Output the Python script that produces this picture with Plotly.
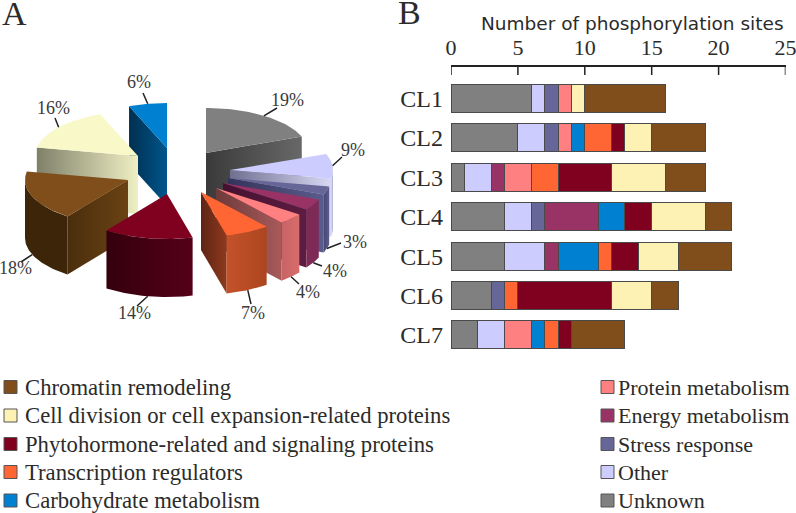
import numpy as np
import plotly.graph_objects as go

# panel B
clusters = ["CL1", "CL2", "CL3", "CL4", "CL5", "CL6", "CL7"]
unknown = [6, 5, 1, 4, 4, 3, 2]
other = [1, 2, 2, 2, 3, None, 2]
stress = [1, 1, None, 1, None, 1, None]
energy = [None, None, 1, 4, 1, None, None]
protein = [1, 1, 2, None, None, None, 2]
carbohydrate = [None, 1, None, 2, 3, None, 1]
transcription = [None, 2, 2, None, 1, 1, 1]
phytohormone = [None, 1, 4, 2, 2, 7, 1]
cell_division = [1, 2, 4, 4, 3, 3, None]
chromatin = [6, 4, 3, 2, 4, 2, 4]
x_ticks = [0, 5, 10, 15, 20, 25]

# panel A, clockwise from 12 o'clock
pie_names = ["Unknown", "Other", "Stress response", "Energy metabolism", "Protein metabolism",
             "Transcription regulators", "Phytohormone", "Chromatin remodeling",
             "Cell division", "Carbohydrate metabolism"]
pie_values = [19, 9, 3, 4, 4, 7, 14, 18, 16, 6]

legend_left = ["Chromatin remodeling", "Cell division or cell expansion-related proteins",
               "Phytohormone-related and signaling proteins", "Transcription regulators",
               "Carbohydrate metabolism"]
legend_right = ["Protein metabolism", "Energy metabolism", "Stress response", "Other", "Unknown"]

colors = {"Unknown": "#808080", "Other": "#ccccff", "Stress response": "#666699",
          "Energy metabolism": "#993366", "Protein metabolism": "#ff8080",
          "Transcription regulators": "#ff6633", "Phytohormone": "#800020",
          "Chromatin remodeling": "#7f4e1a", "Cell division": "#fdf2b4",
          "Carbohydrate metabolism": "#0080d0"}
pie_top = dict(colors, **{"Cell division": "#f8f8c8"})
legend_colors_left = ["#7f4e1a", "#fdf2b4", "#800020", "#ff6633", "#0080d0"]
legend_colors_right = ["#ff8080", "#993366", "#666699", "#ccccff", "#808080"]

# exploded pie layout, pixels on the full-page axes
RX, RY, WALL = 103, 45, 58
apex = {"Unknown": (206, 153), "Other": (230, 170), "Stress response": (228, 178),
        "Energy metabolism": (223, 183), "Protein metabolism": (216, 188),
        "Transcription regulators": (201, 192), "Phytohormone": (167, 194),
        "Chromatin remodeling": (128, 180), "Cell division": (138, 156),
        "Carbohydrate metabolism": (167, 148)}
label_pos = {"Unknown": (287, 100), "Other": (353, 150), "Stress response": (355, 242),
             "Energy metabolism": (335, 271), "Protein metabolism": (308, 292),
             "Transcription regulators": (253, 313), "Phytohormone": (134, 313),
             "Chromatin remodeling": (15, 268), "Cell division": (53, 108),
             "Carbohydrate metabolism": (139, 82)}
leader_end = {"Unknown": (277, 108), "Other": (342, 157), "Stress response": (341, 243),
              "Energy metabolism": (322, 266), "Protein metabolism": (299, 284),
              "Transcription regulators": (251, 304), "Phytohormone": (137, 306),
              "Chromatin remodeling": (21, 262), "Cell division": (55, 118),
              "Carbohydrate metabolism": (143, 93)}
# cut face and outer wall shades: (left colour, right colour)
cut_shade = {"Unknown": ("#3a3a3a", "#686868"), "Other": ("#6f6f90", "#d8d8f4"),
             "Stress response": ("#33335a", "#5c5c8c"), "Energy metabolism": ("#451030", "#5e1d40"),
             "Protein metabolism": ("#6e3a3a", "#a85a5a"), "Transcription regulators": ("#5e2416", "#8e3a1c"),
             "Phytohormone": ("#3c0010", "#3c0010"), "Chromatin remodeling": ("#4a2e0c", "#6a4214"),
             "Cell division": ("#80806a", "#efefc4"), "Carbohydrate metabolism": ("#002f50", "#00568c")}
wall_shade = {"Unknown": ("#686868", "#686868"), "Other": ("#d0d0f0", "#b0b0d8"),
              "Stress response": ("#464678", "#5c5c8c"), "Energy metabolism": ("#7e2a56", "#7e2a56"),
              "Protein metabolism": ("#c86464", "#d86c6c"), "Transcription regulators": ("#c4522a", "#ac4620"),
              "Phytohormone": ("#34000e", "#55001a"), "Chromatin remodeling": ("#3c2508", "#3c2508"),
              "Cell division": ("#efefc4", "#efefc4"), "Carbohydrate metabolism": ("#00568c", "#00568c")}
draw_order = ["Unknown", "Carbohydrate metabolism", "Cell division", "Other", "Stress response",
              "Energy metabolism", "Protein metabolism", "Chromatin remodeling",
              "Transcription regulators", "Phytohormone"]

PAGE_W, PAGE_H = 796, 513
SERIF = "Liberation Serif"
TEXT = "#2b2b2b"


def rim(name, deg):
    ax, ay = apex[name]
    t = np.radians(deg)
    return ax + RX * np.sin(t), ay - RY * np.cos(t)


def face(xs, ys, fill_from, fill_to):
    xs = [float(v) for v in xs]
    ys = [float(v) for v in ys]
    return go.Scatter(x=xs + xs[:1], y=ys + ys[:1], xaxis="x2", yaxis="y2", mode="lines",
                      line=dict(width=0), fill="toself", hoverinfo="skip",
                      fillgradient=dict(type="horizontal",
                                        colorscale=[[0, fill_from], [1, fill_to]]))


fig = go.Figure()

# pie wedges
bounds = np.concatenate([[0], np.cumsum(pie_values)]) * 3.6
spans = {n: (bounds[i], bounds[i + 1]) for i, n in enumerate(pie_names)}
for name in draw_order:
    a, b = spans[name]
    ax, ay = apex[name]
    if np.sin(np.radians(a)) < -1e-6:
        px, py = rim(name, a)
        fig.add_trace(face([ax, px, px, ax], [ay, py, py + WALL, ay + WALL], *cut_shade[name]))
    if np.sin(np.radians(b)) > 1e-6:
        px, py = rim(name, b)
        fig.add_trace(face([ax, px, px, ax], [ay, py, py + WALL, ay + WALL], *cut_shade[name]))
    lo, hi = max(a, 90), min(b, 270)
    if lo < hi:
        arc = np.linspace(lo, hi, 40)
        xa, ya = rim(name, arc)
        fig.add_trace(face(np.concatenate([xa, xa[::-1]]), np.concatenate([ya, ya[::-1] + WALL]),
                           *wall_shade[name]))
    arc = np.linspace(a, b, 40)
    xa, ya = rim(name, arc)
    fig.add_trace(go.Scatter(x=np.concatenate([[ax], xa, [ax]]), y=np.concatenate([[ay], ya, [ay]]),
                             xaxis="x2", yaxis="y2", mode="lines", line=dict(width=0),
                             fill="toself", fillcolor=pie_top[name], hoverinfo="skip"))

# leader lines and percent labels
for name, value in zip(pie_names, pie_values):
    a, b = spans[name]
    mid = (a + b) / 2
    sx, sy = rim(name, mid)
    if 90 < mid < 270:
        sy += WALL
    ex, ey = leader_end[name]
    fig.add_trace(go.Scatter(x=[sx, ex], y=[sy, ey], xaxis="x2", yaxis="y2", mode="lines",
                             line=dict(color="#222222", width=1.5), hoverinfo="skip"))
    lx, ly = label_pos[name]
    fig.add_annotation(x=lx, y=ly, xref="x2", yref="y2", text=f"{value}%", showarrow=False,
                       font=dict(family=SERIF, size=18, color="#3a3a3a"))

# stacked bars
series = [("Unknown", unknown), ("Other", other), ("Stress response", stress),
          ("Energy metabolism", energy), ("Protein metabolism", protein),
          ("Carbohydrate metabolism", carbohydrate), ("Transcription regulators", transcription),
          ("Phytohormone", phytohormone), ("Cell division", cell_division),
          ("Chromatin remodeling", chromatin)]
for name, vals in series:
    fig.add_trace(go.Bar(x=vals, y=clusters, orientation="h", name=name, xaxis="x", yaxis="y",
                         marker=dict(color=colors[name], line=dict(color="#4a4a4a", width=1))))

# legend swatches
rows = [387, 415.5, 444, 472, 500.5]
fig.add_trace(go.Scatter(x=[10.5] * 5 + [607.5] * 5, y=rows + rows, xaxis="x2", yaxis="y2",
                         mode="markers", hoverinfo="skip",
                         marker=dict(symbol="square", size=13,
                                     color=legend_colors_left + legend_colors_right,
                                     line=dict(color="#555555", width=1))))
for texts, x0, size in ((legend_left, 23, 22.7), (legend_right, 616, 22)):
    for label, y0 in zip(texts, rows):
        fig.add_annotation(x=x0, y=y0, xref="x2", yref="y2", text=label, showarrow=False,
                           xanchor="left", font=dict(family=SERIF, size=size, color=TEXT))

# panel letters and axis caption
fig.add_annotation(x=14, y=13, xref="x2", yref="y2", text="A", showarrow=False,
                   font=dict(family=SERIF, size=34, color=TEXT))
fig.add_annotation(x=409, y=12, xref="x2", yref="y2", text="B", showarrow=False,
                   font=dict(family=SERIF, size=34, color=TEXT))
fig.add_annotation(x=632, y=23, xref="x2", yref="y2", text="Number of phosphorylation sites",
                   showarrow=False, font=dict(family="DejaVu Sans", size=18.5, color=TEXT))

# tick marks hang below the top axis line
for tick in x_ticks:
    fig.add_shape(type="line", xref="x", yref="paper", x0=tick, x1=tick,
                  y0=1 - 67 / PAGE_H, y1=1 - 75 / PAGE_H, line=dict(color="#222222", width=1.5))

fig.update_layout(
    width=PAGE_W, height=PAGE_H, margin=dict(l=0, r=0, t=0, b=0, autoexpand=False),
    paper_bgcolor="white", plot_bgcolor="rgba(0,0,0,0)", showlegend=False,
    barmode="stack", bargap=0.29,
    xaxis=dict(domain=[451 / PAGE_W, 785.5 / PAGE_W], anchor="y", side="top", range=[0, 25],
               tickvals=x_ticks, ticks="", showline=True, linecolor="#222222", linewidth=1.5,
               showgrid=False, zeroline=False, ticklabeloverflow="allow", ticklabelstandoff=1,
               tickfont=dict(family=SERIF, size=22, color=TEXT)),
    yaxis=dict(domain=[1 - 354.6 / PAGE_H, 1 - 67 / PAGE_H], anchor="x", range=[6.5, -0.8],
               type="category", categoryorder="array", categoryarray=clusters,
               showgrid=False, zeroline=False, showline=False, ticks="", ticklabelstandoff=7,
               tickfont=dict(family=SERIF, size=24, color=TEXT)),
    xaxis2=dict(domain=[0, 1], range=[0, PAGE_W], visible=False, anchor="y2", fixedrange=True),
    yaxis2=dict(domain=[0, 1], range=[PAGE_H, 0], visible=False, anchor="x2", fixedrange=True),
)

# the page's default body margin would push the figure off the window
fig.write_html("out.html", post_script="document.body.style.margin = '0';",
               config={"displayModeBar": False})
